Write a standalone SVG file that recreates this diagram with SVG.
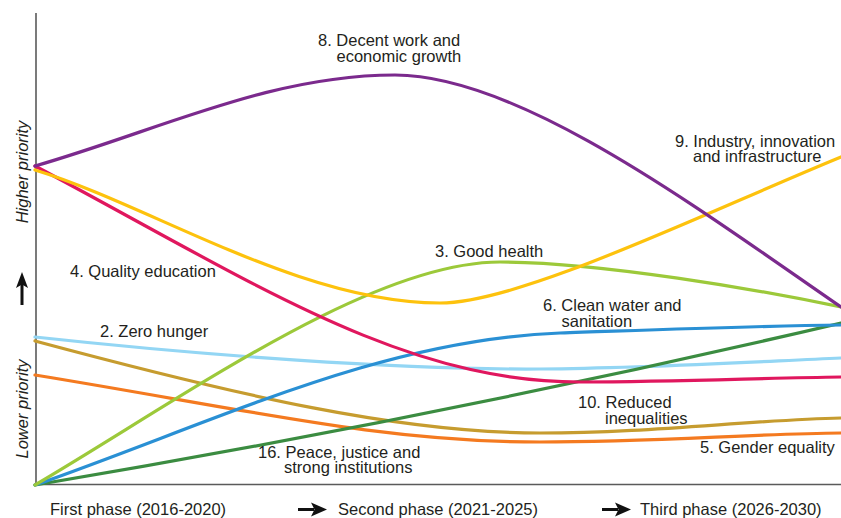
<svg xmlns="http://www.w3.org/2000/svg" width="841" height="518" viewBox="0 0 841 518">
<style>
text{font-family:"Liberation Sans",Arial,sans-serif;font-size:16.5px;fill:#231f20}
.ax{font-style:italic}
.c{fill:none;stroke-width:3.2;stroke-linecap:round}
.axis{stroke:#5a5a5a;stroke-width:1.6;fill:none}
.arr{fill:#111}
</style>
<rect width="841" height="518" fill="#fff"/>
<g id="axes">
<path class="axis" d="M36,13 V484.5 H841"/>
<text class="ax" transform="translate(28,172) rotate(-90)" text-anchor="middle">Higher priority</text>
<text class="ax" transform="translate(28,409) rotate(-90)" text-anchor="middle">Lower priority</text>
<rect class="arr" x="20.5" y="283" width="3" height="22"/>
<polygon class="arr" points="22,272 28,288 22,284.5 16,288"/>
</g>
<g id="connectors">
<path id="sdg2" class="c" stroke="#93d6f4" d="M35,337 C200,355 400,370 540,369 C650,368 750,362 841,358"/>
<path id="sdg10" class="c" stroke="#c69c2f" d="M35,341 C240,396 400,433 540,433 C650,433 750,420 841,418"/>
<path id="sdg5" class="c" stroke="#f47a20" d="M35,375 C250,410 380,442 540,442 C650,442 750,434 841,433"/>
<path id="sdg16" class="c" stroke="#3b8c41" d="M35,485 Q440,417 841,323"/>
<path id="sdg6" class="c" stroke="#2a90d4" d="M35,485 C220,420 380,340 560,333 C650,330 750,326 841,325"/>
<path id="sdg3" class="c" stroke="#9cc93a" d="M35,485 C180,400 370,262 500,262 C600,262 760,290 841,307"/>
<path id="sdg4" class="c" stroke="#e0175e" d="M35,166 C250,280 400,382 580,382 C680,382 760,378 841,377"/>
<path id="sdg9" class="c" stroke="#fdc20d" d="M35,170 C150,205 300,303 440,303 C520,303 700,215 841,157"/>
<path id="sdg8" class="c" stroke="#7b2a8d" d="M35,166 C160,130 270,75 395,75 C520,75 700,210 841,307"/>
</g>
<g id="labels">
<text x="318" y="46">8. Decent work and<tspan x="336.5" y="62">economic growth</tspan></text>
<text x="675" y="147">9. Industry, innovation<tspan x="693" y="162">and infrastructure</tspan></text>
<text x="435" y="257">3. Good health</text>
<text x="543" y="311">6. Clean water and<tspan x="561.5" y="327">sanitation</tspan></text>
<text x="70" y="277">4. Quality education</text>
<text x="100" y="337">2. Zero hunger</text>
<text x="578" y="408">10. Reduced<tspan x="605" y="424">inequalities</tspan></text>
<text x="700" y="453">5. Gender equality</text>
<text x="258" y="458">16. Peace, justice and<tspan x="284" y="473">strong institutions</tspan></text>
</g>
<g id="phases">
<text x="50" y="514.5">First phase (2016-2020)</text>
<rect class="arr" x="298" y="508" width="16" height="3"/>
<polygon class="arr" points="327,509.5 311,502.5 314.5,509.5 311,516.5"/>
<text x="338" y="514.5">Second phase (2021-2025)</text>
<rect class="arr" x="602" y="508" width="16" height="3"/>
<polygon class="arr" points="631,509.5 615,502.5 618.5,509.5 615,516.5"/>
<text x="640" y="514.5">Third phase (2026-2030)</text>
</g>
</svg>
